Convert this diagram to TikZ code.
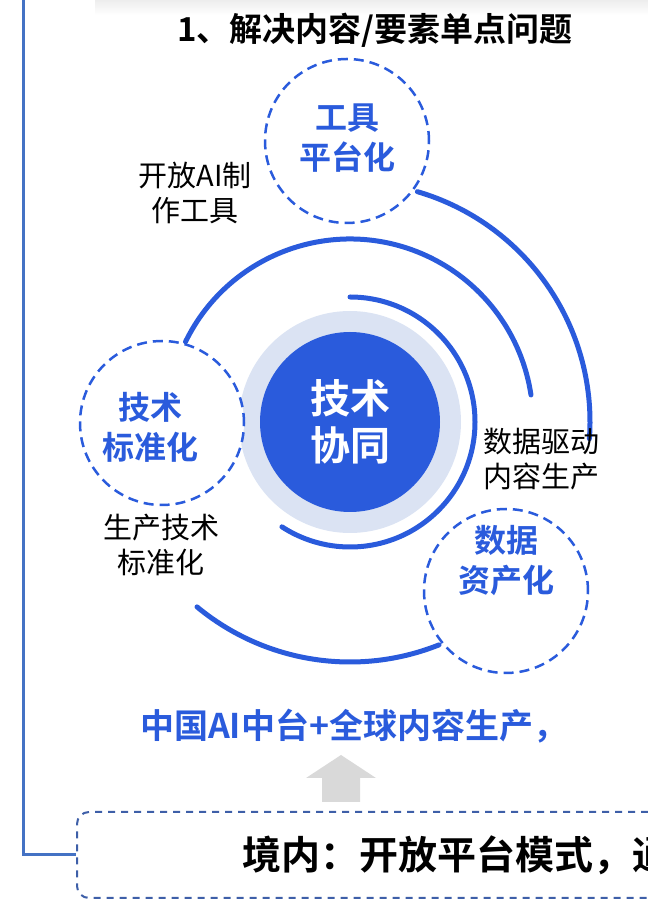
\documentclass[tikz,border=0pt]{standalone}
\usepackage{fontspec}
\usetikzlibrary{positioning}
\newfontfamily\cjk{Noto Sans CJK SC}[BoldFont={Noto Sans CJK SC Bold}]
\definecolor{hubblue}{HTML}{2A5BDC}
\definecolor{halo}{HTML}{DBE3F3}
\definecolor{frameblue}{HTML}{4472C4}
\definecolor{boxblue}{HTML}{3E5FA8}
\definecolor{arrowgrey}{HTML}{D9D9D9}
\tikzset{
  dashcircle/.style={circle, draw=hubblue, fill=white, line width=2.5pt, dash pattern=on 10pt off 6pt, minimum size=164pt, inner sep=0pt},
  bluelabel/.style={align=center, text=hubblue, font=\cjk\bfseries\fontsize{32}{40}\selectfont},
  plainlabel/.style={align=center, font=\cjk\fontsize{29}{35}\selectfont},
  ringarc/.style={draw=hubblue, line width=5pt, line cap=round},
}

\begin{document}
\begin{tikzpicture}[x=1pt, y=1pt]
\useasboundingbox (0,0) rectangle (648,903);
\clip (0,0) rectangle (648,903);
\shade[top color=black!7, bottom color=white] (95,888) rectangle (648,903);
% hub and rings
\coordinate (C) at (350,481);
\fill[halo] (C) circle[radius=111];
\node[circle, fill=hubblue, minimum size=180pt, inner sep=0pt, text=white, align=center, font=\cjk\bfseries\fontsize{40}{47}\selectfont] (hub) at (C) {技术\\协同};
\foreach \r/\a/\b in {125/90/-123, 183/154/8.5, 240/73.7/-4, 240/-129.6/-68.2}
  \draw[ringarc] (C) ++(\a:\r) arc[start angle=\a, end angle=\b, radius=\r];
% dashed circles
\node[dashcircle] (tool) at (347,762) {};
\node[dashcircle] (std) at (162,480) {};
\node[dashcircle] (asset) at (506,312) {};
\node[bluelabel] (toollab) at ([yshift=3pt]tool) {工具\\平台化};
\node[bluelabel] (stdlab) at ([xshift=-12pt, yshift=-4pt]std) {技术\\标准化};
\node[bluelabel] (assetlab) at ([yshift=30pt]asset) {数据\\资产化};
% notes
\node[plainlabel] (toolnote) at (195,710) {开放AI制\\作工具};
\node[plainlabel] (stdnote) at (161,358) {生产技术\\标准化};
\node[plainlabel] (datanote) at (541,444) {数据驱动\\内容生产};
\node[font=\cjk\bfseries\fontsize{33}{40}\selectfont] (title) at (375,873) {1、解决内容/要素单点问题};
\node[bluelabel, font=\cjk\bfseries\fontsize{34}{40}\selectfont, anchor=west, inner sep=0pt] (slogan) at (140,177) {中国AI中台+全球内容生产，};
\coordinate (up) at (341,101);
\fill[arrowgrey] (up) ++(-19,0) -- ++(0,24) -- ++(-16,0) -- (341,148) -- (376,125) -- ++(-16,0) -- ++(0,-24) -- cycle;
% bottom box
\node[draw=boxblue, line width=2pt, dash pattern=on 7pt off 6pt, rounded corners=12pt, minimum width=700pt, minimum height=86pt, anchor=west, inner sep=0pt] (inbox) at (76,48) {};
\node[font=\cjk\bfseries\fontsize{39}{44}\selectfont, anchor=west, inner sep=0pt] (intext) at (242,48) {境内：开放平台模式，通};
\coordinate (frametop) at (23,903);
\draw[frameblue, line width=3pt] (frametop) |- (inbox.west);
\end{tikzpicture}
\end{document}
